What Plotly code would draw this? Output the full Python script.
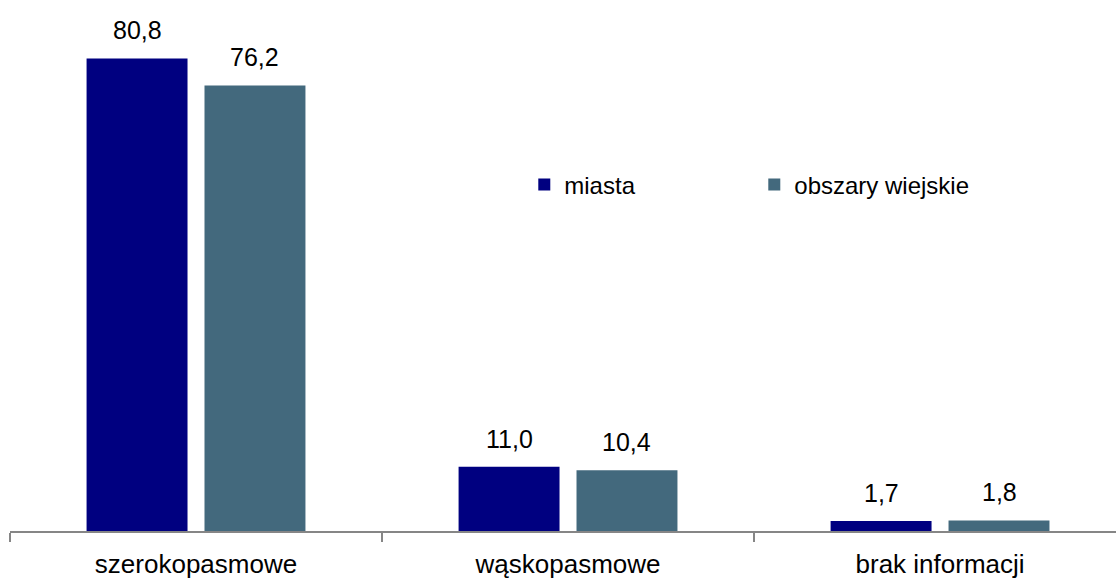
import plotly.graph_objects as go

categories = ["szerokopasmowe", "wąskopasmowe", "brak informacji"]
miasta = [80.8, 11.0, 1.7]
wies = [76.2, 10.4, 1.8]
series_names = ["miasta", "obszary wiejskie"]
colors = ["#000080", "#43697D"]

def fmt(v):
    return f"{v:.1f}".replace(".", ",")

fig = go.Figure()
for i, (name, vals, col) in enumerate(zip(series_names, [miasta, wies], colors)):
    fig.add_trace(go.Bar(
        x=categories, y=vals, name=name, marker=dict(color=col, line=dict(width=0)),
        offsetgroup=str(i),
    ))

# data labels as annotations placed over each bar
slot = (1 - 0.366) / 2
for i, vals in enumerate([miasta, wies]):
    for j, v in enumerate(vals):
        xpos = j - (1 - 0.366) / 2 + slot * (i + 0.5)
        fig.add_annotation(x=xpos, y=v, xref="x", yref="y", text=fmt(v), showarrow=False,
                           yanchor="bottom", xanchor="center", yshift=12,
                           font=dict(family="Liberation Sans, Arial", size=25, color="#000000"))

fig.update_layout(
    width=1116, height=581,
    margin=dict(l=10, r=0, t=0, b=50),
    paper_bgcolor="white", plot_bgcolor="white",
    barmode="group", bargap=0.366, bargroupgap=0.144,
    font=dict(family="Liberation Sans, Arial", size=24, color="#000000"),
    legend=dict(orientation="h", x=0.465, y=0.652, xanchor="left", yanchor="middle",
                entrywidth=185, entrywidthmode="pixels", bgcolor="rgba(0,0,0,0)",
                font=dict(size=24), tracegroupgap=0),
    showlegend=True,
)
fig.update_xaxes(type="category", range=[-0.5, 2.473], showline=True, linecolor="#868686", linewidth=2,
                 ticks="outside", tickson="boundaries", ticklen=9, tickcolor="#868686", tickwidth=2,
                 showgrid=False, tickfont=dict(size=26), ticklabelstandoff=9)
fig.update_yaxes(range=[0, 90.8], visible=False, showgrid=False)

fig.write_html("out.html")
